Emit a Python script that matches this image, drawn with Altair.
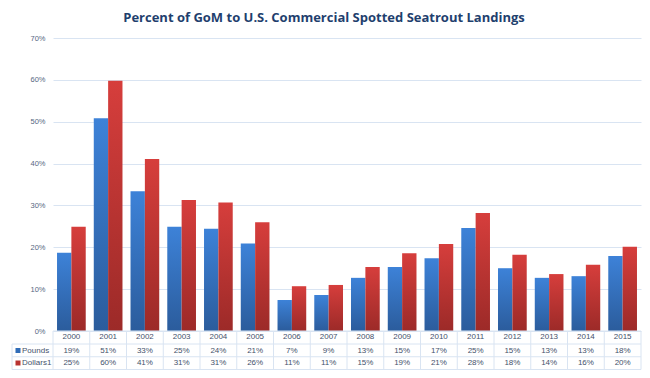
import altair as alt
import pandas as pd

years = [str(y) for y in range(2000, 2016)]
series = ["Pounds", "Dollars1"]
pounds = [18.7, 50.8, 33.4, 24.9, 24.4, 20.9, 7.4, 8.6, 12.7, 15.3, 17.4, 24.6, 15.0, 12.7, 13.1, 17.9]
dollars = [24.9, 59.8, 41.1, 31.3, 30.7, 26.0, 10.7, 11.0, 15.3, 18.6, 20.8, 28.2, 18.2, 13.6, 15.8, 20.1]
pounds_labels = ["19%", "51%", "33%", "25%", "24%", "21%", "7%", "9%", "13%", "15%", "17%", "25%", "15%", "13%", "13%", "18%"]
dollars_labels = ["25%", "60%", "41%", "31%", "31%", "26%", "11%", "11%", "15%", "19%", "21%", "28%", "18%", "14%", "16%", "20%"]
y_ticks = [0, 0.1, 0.2, 0.3, 0.4, 0.5, 0.6, 0.7]
title_text = "Percent of GoM to U.S. Commercial Spotted Seatrout Landings"

rows = []
for i, yr in enumerate(years):
    rows.append({"year": yr, "series": "Pounds", "value": pounds[i] / 100, "label": pounds_labels[i]})
    rows.append({"year": yr, "series": "Dollars1", "value": dollars[i] / 100, "label": dollars_labels[i]})
df = pd.DataFrame(rows)
one = pd.DataFrame({"k": [0]})

W, H = 588, 293
GRID = "#D9E4F2"
TXT = "#44516B"
AX = "#56677F"
FONT = "Liberation Sans"

blue_grad = alt.Gradient(gradient="linear", x1=0, x2=0, y1=0, y2=1,
                         stops=[alt.GradientStop(color="#3D82D8", offset=0),
                                alt.GradientStop(color="#2B5C9C", offset=1)])
red_grad = alt.Gradient(gradient="linear", x1=0, x2=0, y1=0, y2=1,
                        stops=[alt.GradientStop(color="#D63E3C", offset=0),
                               alt.GradientStop(color="#9C2A28", offset=1)])

xs = alt.Scale(domain=years, paddingInner=0, paddingOuter=0)
X = alt.X("year:N", scale=xs, axis=None)
yenc = alt.Y("value:Q", scale=alt.Scale(domain=[0, 0.7]),
             axis=alt.Axis(values=y_ticks, format=".0%", domain=False, ticks=False,
                           grid=True, gridColor=GRID, gridWidth=1, labelPadding=8,
                           labelFontSize=7.5, labelColor=AX, labelFont=FONT),
             title=None)
xo = alt.XOffset("series:N", scale=alt.Scale(domain=series, paddingOuter=0.28, paddingInner=0))

base = alt.Chart(df)
bars_p = base.transform_filter(alt.datum.series == "Pounds").mark_bar(color=blue_grad).encode(x=X, xOffset=xo, y=yenc)
bars_d = base.transform_filter(alt.datum.series == "Dollars1").mark_bar(color=red_grad).encode(x=X, xOffset=xo, y=yenc)

txt_kw = dict(font=FONT, fontSize=8, color=TXT, baseline="middle", align="center")
year_txt = base.transform_filter(alt.datum.series == "Pounds").mark_text(**txt_kw).encode(
    x=X, y=alt.value(299), text="year:N")
p_txt = base.transform_filter(alt.datum.series == "Pounds").mark_text(**txt_kw).encode(
    x=X, y=alt.value(312.5), text="label:N")
d_txt = base.transform_filter(alt.datum.series == "Dollars1").mark_text(**txt_kw).encode(
    x=X, y=alt.value(325), text="label:N")

vlines = base.transform_filter(alt.datum.series == "Pounds").mark_rule(color=GRID, strokeWidth=1).encode(
    x=alt.X("year:N", scale=xs, axis=None, bandPosition=0), y=alt.value(293), y2=alt.value(331.5))
vright = alt.Chart(one).mark_rule(color=GRID).encode(x=alt.value(W), y=alt.value(293), y2=alt.value(331.5))
vleft = alt.Chart(one).mark_rule(color=GRID).encode(x=alt.value(-41), y=alt.value(306), y2=alt.value(331.5))
h0 = alt.Chart(one).mark_rule(color=GRID).encode(x=alt.value(0), x2=alt.value(W), y=alt.value(293))
h1 = alt.Chart(one).mark_rule(color=GRID).encode(x=alt.value(-41), x2=alt.value(W), y=alt.value(306))
h2 = alt.Chart(one).mark_rule(color=GRID).encode(x=alt.value(-41), x2=alt.value(W), y=alt.value(318.75))
h3 = alt.Chart(one).mark_rule(color=GRID).encode(x=alt.value(-41), x2=alt.value(W), y=alt.value(331.5))

leg_p_sq = alt.Chart(one).mark_square(color="#2F6CB8", size=25, opacity=1).encode(x=alt.value(-35), y=alt.value(312.5))
leg_d_sq = alt.Chart(one).mark_square(color="#B83230", size=25, opacity=1).encode(x=alt.value(-35), y=alt.value(325))
leg_kw = dict(font=FONT, fontSize=8, color=TXT, baseline="middle", align="left")
leg_p = alt.Chart(one).mark_text(text=series[0], **leg_kw).encode(x=alt.value(-31), y=alt.value(312.5))
leg_d = alt.Chart(one).mark_text(text=series[1], **leg_kw).encode(x=alt.value(-31), y=alt.value(325))

chart = alt.layer(
    bars_p, bars_d, vlines, vright, vleft, h0, h1, h2, h3,
    year_txt, p_txt, d_txt, leg_p_sq, leg_d_sq, leg_p, leg_d
).properties(
    width=W, height=H,
    background="white",
    title=alt.TitleParams(title_text, anchor="middle", dx=-23, offset=9,
                          font="Open Sans", fontSize=13, fontWeight="bold", color="#1F3F6E"),
    autosize=alt.AutoSizeParams(type="none"),
    padding={"left": 45, "top": 30, "right": 1, "bottom": 39},
).configure_view(strokeWidth=0, stroke="transparent")

chart.save("out.html", embed_options={"renderer": "svg", "actions": False})
